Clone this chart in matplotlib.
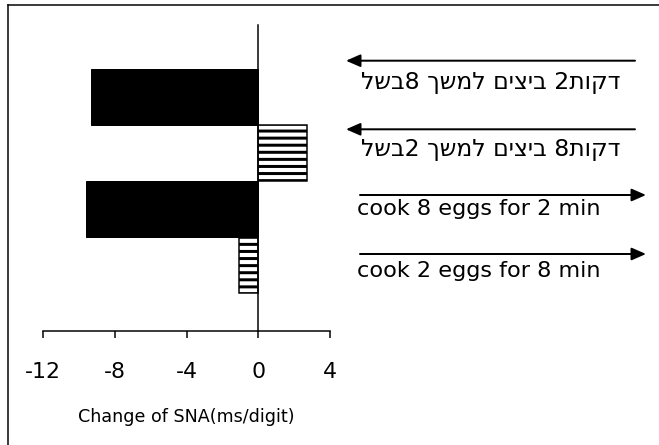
import matplotlib
matplotlib.use("Agg")
import matplotlib.pyplot as plt
from matplotlib.lines import Line2D

# ---- data ----
solid_values = [-9.3, -9.6]      # black bars (top of each pair)
hatched_values = [2.7, -1.1]     # striped bars (bottom of each pair)
solid_pos = [4, 2]
hatched_pos = [3, 1]
xticks = [-12, -8, -4, 0, 4]
xtick_labels = ["-12", "-8", "-4", "0", "4"]
x_label = "Change of SNA(ms/digit)"

heb1 = "\u05DC\u05E9\u05D1" + "8 " + "\u05DA\u05E9\u05DE\u05DC" + " " + "\u05DD\u05D9\u05E6\u05D9\u05D1" + " 2" + "\u05EA\u05D5\u05E7\u05D3"
heb2 = "\u05DC\u05E9\u05D1" + "2 " + "\u05DA\u05E9\u05DE\u05DC" + " " + "\u05DD\u05D9\u05E6\u05D9\u05D1" + " 8" + "\u05EA\u05D5\u05E7\u05D3"
eng1 = "cook 8 eggs for 2 min"
eng2 = "cook 2 eggs for 8 min"

# ---- setup ----
DPI = 85
W, H = 659, 445
def pt(px):
    return px * 72.0 / DPI

plt.rcParams['axes.unicode_minus'] = False
plt.rcParams['font.family'] = ['DejaVu Sans']
plt.rcParams['hatch.linewidth'] = pt(3.0)
plt.rcParams['hatch.color'] = 'black'

fig = plt.figure(figsize=(W / DPI, H / DPI), dpi=DPI)
fig.patch.set_facecolor('white')

ax = fig.add_axes([43 / W, (H - 331) / H, (330 - 43) / W, (331 - 25) / H])
ax.barh(solid_pos, solid_values, height=1.0, color='black', edgecolor='black', linewidth=pt(1))
ax.barh(hatched_pos, hatched_values, height=1.0, color='white', edgecolor='black',
        hatch='--', linewidth=pt(1.5))

ax.set_xlim(-12, 4)
ax.set_ylim(-0.179, 5.286)
ax.set_xticks(xticks)
ax.set_xticklabels(xtick_labels, fontsize=pt(22))
ax.tick_params(axis='x', direction='out', length=pt(7), width=pt(1.5), pad=pt(24))
ax.set_yticks([])
for s in ['top', 'right']:
    ax.spines[s].set_visible(False)
ax.spines['left'].set_position(('data', 0))
ax.spines['left'].set_linewidth(pt(1.5))
ax.spines['bottom'].set_linewidth(pt(1.5))
ax.patch.set_alpha(0)

fig.text(186 / W, 1 - 417 / H, x_label, ha='center', va='center', fontsize=pt(17.5))

# overlay in pixel coords for annotations
ov = fig.add_axes([0, 0, 1, 1])
ov.set_xlim(0, W)
ov.set_ylim(H, 0)
ov.axis('off')
ov.patch.set_alpha(0)

arrows = [((635, 60.7), (346, 60.7)),
          ((635, 129.3), (346, 129.3)),
          ((360, 195), (646, 195)),
          ((360, 254), (646, 254))]
for (x0, y0), (x1, y1) in arrows:
    ov.annotate("", xy=(x1, y1), xytext=(x0, y0),
                arrowprops=dict(arrowstyle='-|>,head_length=0.8,head_width=0.35',
                                color='black', lw=pt(2), mutation_scale=pt(15),
                                shrinkA=0, shrinkB=0))

texts = [(361, 89, heb1, 23.5), (361, 156, heb2, 23.5),
         (357, 215, eng1, 22.4), (357, 277, eng2, 22.4)]
for x, y, s, fs in texts:
    ov.text(x, y, s, ha='left', va='baseline', fontsize=pt(fs))

# frame (left and top edges)
fig.add_artist(Line2D([8 / W, 8 / W], [0, 1 - 5 / H], color='black', lw=pt(1.5)))
fig.add_artist(Line2D([8 / W, 1], [1 - 5 / H, 1 - 5 / H], color='black', lw=pt(1.5)))

fig.savefig("out.png", dpi=DPI, facecolor='white')
